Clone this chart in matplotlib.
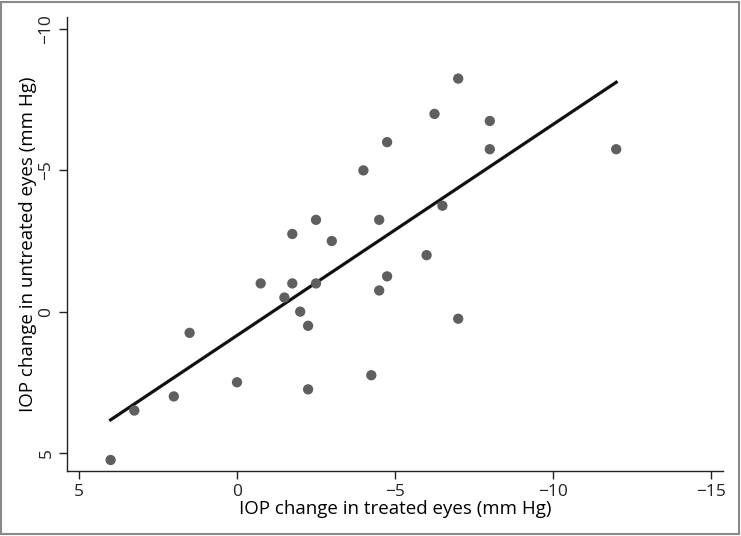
import numpy as np
import matplotlib.pyplot as plt
from matplotlib.patches import Rectangle

# ----------------------------
# Data
# ----------------------------
# IOP change in treated eyes (x) and untreated eyes (y), mm Hg
treated = [4, 3.25, 2, 1.5, 0, -0.75, -1.75, -2.5, -1.5, -2, -2.25, -4.25, -2.25,
           -4.5, -4.75, -7, -6, -7, -6.25, -8, -8, -4.75, -4, -6.5, -2.5, -1.75,
           -3, -4.5, -12]
untreated = [5.25, 3.5, 3, 0.75, 2.5, -1, -1, -1, -0.5, 0, 0.5, 2.25, 2.75,
             -0.75, -1.25, 0.25, -2, -8.25, -7, -6.75, -5.75, -6, -5, -3.75, -3.25,
             -2.75, -2.5, -3.25, -5.75]

# fitted regression line endpoints
fit_x = [4, -12]
fit_y = [3.83, -8.12]

x_ticks = [5, 0, -5, -10, -15]
y_ticks = [5, 0, -5, -10]

plt.rcParams['font.family'] = ['Open Sans', 'DejaVu Sans']

fig = plt.figure(figsize=(7.41, 5.36), dpi=100)
ax = fig.add_axes([67 / 741, 1 - 471 / 536, (723 - 67) / 741, (471 - 17) / 536])

ax.scatter(treated, untreated, s=55, color='#5f5f5f', edgecolors='none', zorder=3)
ax.plot(fit_x, fit_y, color='#111111', linewidth=2.3, zorder=2)

ax.set_xlim(5.38, -15.38)
ax.set_ylim(5.64, -10.43)
ax.set_xticks(x_ticks)
ax.set_yticks(y_ticks)
ax.set_xticklabels([str(v).replace('-', '\u2212') for v in x_ticks])
ax.set_yticklabels([str(v).replace('-', '\u2212') for v in y_ticks],
                   rotation=90, va='center')

ax.spines['top'].set_visible(False)
ax.spines['right'].set_visible(False)
for s in ['left', 'bottom']:
    ax.spines[s].set_linewidth(1.0)
    ax.spines[s].set_color('#222222')
ax.tick_params(direction='out', length=6, width=1.0, colors='#222222',
               labelsize=12.5, pad=3)

ax.set_xlabel('IOP change in treated eyes (mm Hg)', fontsize=13.5, labelpad=0)
ax.set_ylabel('IOP change in untreated eyes (mm Hg)', fontsize=13.5, labelpad=1)

# gray frame around the whole picture
fig.patches.append(Rectangle((0.002, 0.003), 0.995, 0.994, transform=fig.transFigure,
                             fill=False, edgecolor='#8a8a8a', linewidth=1.5))

plt.savefig('out.png', dpi=100)
